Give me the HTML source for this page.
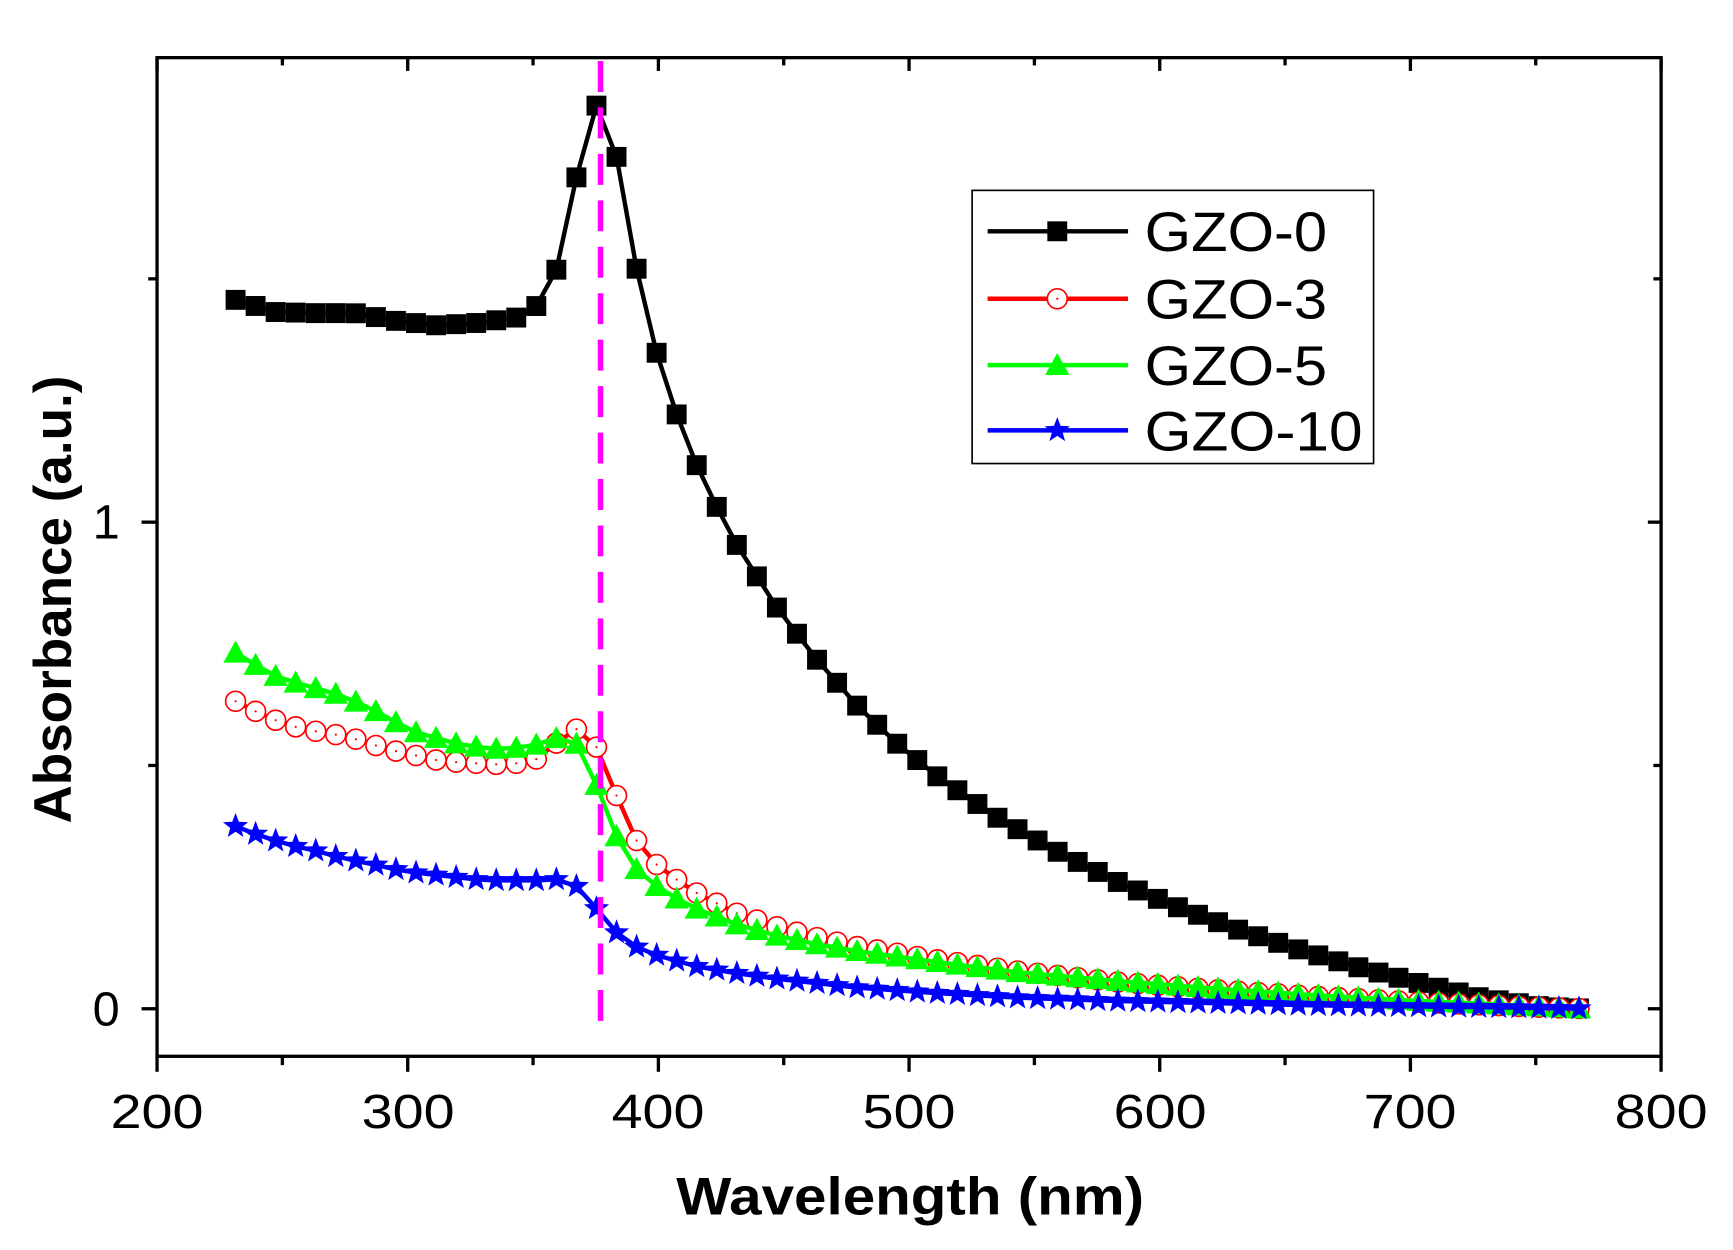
<!DOCTYPE html>
<html><head><meta charset="utf-8"><style>html,body{margin:0;padding:0;background:#fff;}svg{display:block;}</style></head>
<body>
<svg id="s" width="1733" height="1250" viewBox="0 0 1567 1130" xmlns="http://www.w3.org/2000/svg" font-family="Liberation Sans, Arial, sans-serif">
<rect width="1567" height="1130" fill="#fff"/>
<g id="data"></g>
<line x1="543" y1="55" x2="543" y2="935" stroke="#f0f" stroke-width="5" stroke-dasharray="28,14"/>
<rect x="142" y="52" width="1360" height="903" fill="none" stroke="#000" stroke-width="3"/>
<g id="ticks" stroke="#000" stroke-width="3"></g>
<g font-size="44" text-anchor="middle" fill="#000">
<text x="142" y="1020" textLength="84" lengthAdjust="spacingAndGlyphs">200</text><text x="369" y="1020" textLength="84" lengthAdjust="spacingAndGlyphs">300</text><text x="595" y="1020" textLength="84" lengthAdjust="spacingAndGlyphs">400</text><text x="822" y="1020" textLength="84" lengthAdjust="spacingAndGlyphs">500</text><text x="1049" y="1020" textLength="84" lengthAdjust="spacingAndGlyphs">600</text><text x="1275" y="1020" textLength="84" lengthAdjust="spacingAndGlyphs">700</text><text x="1502" y="1020" textLength="84" lengthAdjust="spacingAndGlyphs">800</text>
<text x="96" y="927">0</text><text x="96" y="487">1</text>
</g>
<text x="823" y="1098" font-size="48" font-weight="bold" text-anchor="middle" textLength="423" lengthAdjust="spacingAndGlyphs">Wavelength (nm)</text>
<text transform="translate(64,542) rotate(-90)" font-size="48" font-weight="bold" text-anchor="middle" textLength="405" lengthAdjust="spacingAndGlyphs">Absorbance (a.u.)</text>
<rect x="879" y="172" width="363" height="247" fill="#fff" stroke="#000" stroke-width="1.5"/>
<g id="leg"></g>
<g font-size="50" fill="#000">
<text x="1035" y="227" textLength="165" lengthAdjust="spacingAndGlyphs">GZO-0</text><text x="1035" y="288" textLength="165" lengthAdjust="spacingAndGlyphs">GZO-3</text><text x="1035" y="348" textLength="165" lengthAdjust="spacingAndGlyphs">GZO-5</text><text x="1035" y="407" textLength="197" lengthAdjust="spacingAndGlyphs">GZO-10</text>
</g>
</svg>
<script>
var NS="http://www.w3.org/2000/svg";
function el(t,a,p){var e=document.createElementNS(NS,t);for(var k in a)e.setAttribute(k,a[k]);p.appendChild(e);return e;}
var T=document.getElementById('ticks');
for(var i=0;i<=12;i++){var x=142+i*113.33;var maj=i%2==0;
el('line',{x1:x,y1:955,x2:x,y2:955+(maj?14:8)},T);
el('line',{x1:x,y1:52,x2:x,y2:52+(maj?12:7)},T);}
[912,692,472,252].forEach(function(y,i){var maj=i%2==0;
el('line',{x1:142,y1:y,x2:142-(maj?14:8),y2:y},T);
el('line',{x1:1502,y1:y,x2:1502-(maj?12:7),y2:y},T);});
var K={
k:[[213,271],[249,282],[285,283],[321,283],[358,290],[394,294],[430,292],[467,287],[486,276],[504,242],[521,161],[540,93],[559,146],[577,251],[595,324],[613,378],[631,423],[649,460],[667,494],[703,550],[740,598],[776,639],[812,673],[849,703],[903,740],[958,771],[1012,798],[1067,821],[1121,841],[1176,859],[1230,875],[1284,889],[1339,902],[1394,910],[1434,912]],
r:[[213,634],[231,643],[249,651],[267,657],[285,661],[303,664],[321,668],[340,674],[358,679],[376,683],[394,687],[412,689],[430,690],[449,691],[467,690],[486,686],[504,671],[521,659],[540,676],[559,723],[577,763],[595,783],[613,796],[631,808],[667,826],[703,838],[740,848],[776,856],[849,868],[921,878],[1012,888],[1103,895],[1194,901],[1284,906],[1375,910],[1434,912]],
g:[[213,590],[231,601],[249,611],[267,617],[285,622],[303,627],[321,634],[340,643],[358,653],[376,662],[394,667],[412,672],[430,675],[449,677],[467,676],[486,673],[504,667],[521,672],[540,711],[559,760],[577,788],[595,802],[613,813],[631,822],[667,836],[703,846],[740,854],[776,860],[849,870],[921,879],[1012,887],[1103,894],[1194,900],[1284,905],[1375,909],[1434,912]],
b:[[213,747],[231,754],[249,760],[267,765],[285,769],[303,774],[321,778],[340,782],[358,786],[376,789],[394,791],[412,793],[430,795],[449,796],[467,796],[486,796],[504,795],[521,801],[540,822],[559,845],[577,857],[595,864],[613,869],[631,874],[667,880],[703,885],[740,889],[776,893],[849,898],[921,902],[1012,905],[1103,907],[1194,909],[1284,910],[1375,911],[1434,912]]};
function interp(P,x){for(var i=0;i<P.length-1;i++){if(x<=P[i+1][0]){var t=(x-P[i][0])/(P[i+1][0]-P[i][0]);return P[i][1]+t*(P[i+1][1]-P[i][1]);}}return P[P.length-1][1];}
function star(x,y,R,col,p){var s="";for(var i=0;i<10;i++){var r=i%2?R*0.42:R;var a=-Math.PI/2+i*Math.PI/5;s+=(x+r*Math.cos(a)).toFixed(1)+","+(y+r*Math.sin(a)).toFixed(1)+" ";}el('polygon',{points:s,fill:col},p);}
function mark(t,x,y,p){
if(t=='k')el('rect',{x:x-9,y:y-9,width:18,height:18,fill:'#000'},p);
if(t=='r'){el('circle',{cx:x,cy:y,r:9,fill:'#fff',stroke:'#f00','stroke-width':1.5},p);el('circle',{cx:x,cy:y,r:1,fill:'#f00'},p);}
if(t=='g')el('polygon',{points:(x-11)+","+(y+9)+" "+(x+11)+","+(y+9)+" "+x+","+(y-11),fill:'#0f0'},p);
if(t=='b')star(x,y,12,'#00f',p);}
var D=document.getElementById('data');var col={k:'#000',r:'#f00',g:'#0f0',b:'#00f'};
['k','r','g','b'].forEach(function(t){var pts=[];for(var i=0;i<68;i++){var x=213+i*18.13;pts.push([x,interp(K[t],x)]);}
el('polyline',{points:pts.map(function(p){return p[0].toFixed(1)+","+p[1].toFixed(1)}).join(" "),fill:'none',stroke:col[t],'stroke-width':4,'stroke-linejoin':'round'},D);
pts.forEach(function(p){mark(t,p[0],p[1],D);});});
var L=document.getElementById('leg');
[['k',209],['r',270],['g',330],['b',389]].forEach(function(a){el('line',{x1:893,y1:a[1],x2:1020,y2:a[1],stroke:col[a[0]],'stroke-width':4},L);mark(a[0],956,a[1],L);});
</script>
</body></html>
